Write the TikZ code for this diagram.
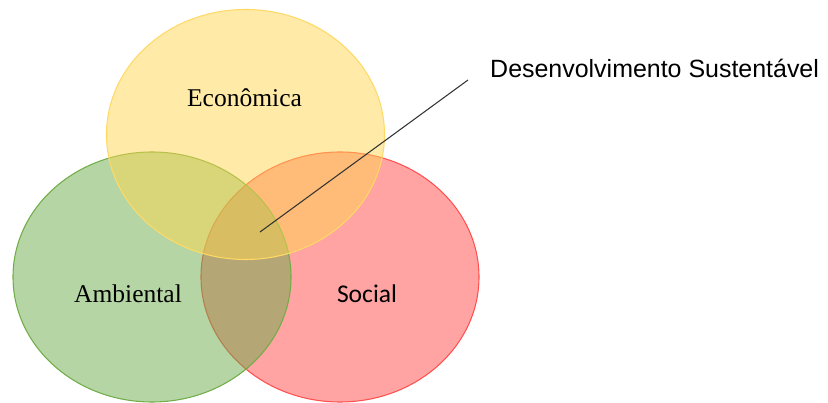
\documentclass[tikz,border=0pt]{standalone}
\usepackage{fontspec}
\newfontfamily\timesfont{Liberation Serif}
\newfontfamily\calibrifont{Carlito}
\newfontfamily\arialfont{Liberation Sans}
\definecolor{amarelo}{RGB}{255,213,79}
\definecolor{amareloborda}{RGB}{255,217,102}
\definecolor{verde}{RGB}{107,171,73}
\definecolor{verdeborda}{RGB}{112,173,71}
\definecolor{vermelho}{RGB}{255,71,71}
\definecolor{vermelhoborda}{RGB}{255,80,80}
\usetikzlibrary{shapes.geometric,positioning}

\tikzset{
  conjunto/.style={ellipse, line width=0.9pt, fill opacity=0.5, draw opacity=1,
    minimum width=8.34cm, minimum height=7.5cm, inner sep=0pt},
  rotulo/.style={font=\timesfont\fontsize{21.8}{24}\selectfont, anchor=base}
}

\begin{document}
\begin{tikzpicture}[x=0.03cm, y=-0.03cm]
    \useasboundingbox (0,0) rectangle (828,403);
    % conjuntos
    \node[conjunto, draw=vermelhoborda, fill=vermelho] (soc) at (340,277) {};
    \node[conjunto, draw=verdeborda, fill=verde] (amb) at (152,277) {};
    \node[conjunto, draw=amareloborda, fill=amarelo] (eco) at (245.5,134.5) {};
    % rotulos
    \node[rotulo] (teco) at (244.5,107) {Econômica};
    \node[rotulo] (tamb) at (128,303) {Ambiental};
    \node[rotulo, font=\calibrifont\fontsize{21.8}{24}\selectfont] (tsoc) at (367,303) {Social};
    \node[anchor=base west, inner sep=0pt, font=\arialfont\fontsize{21.3}{24}\selectfont]
      (dev) at (490,78) {Desenvolvimento Sustentável};
    \coordinate (centro) at (260,232);
    \coordinate (fim) at (468,80);
    \draw[line width=0.9pt, black!80] (centro) -- (fim);
  \end{tikzpicture}
\end{document}
